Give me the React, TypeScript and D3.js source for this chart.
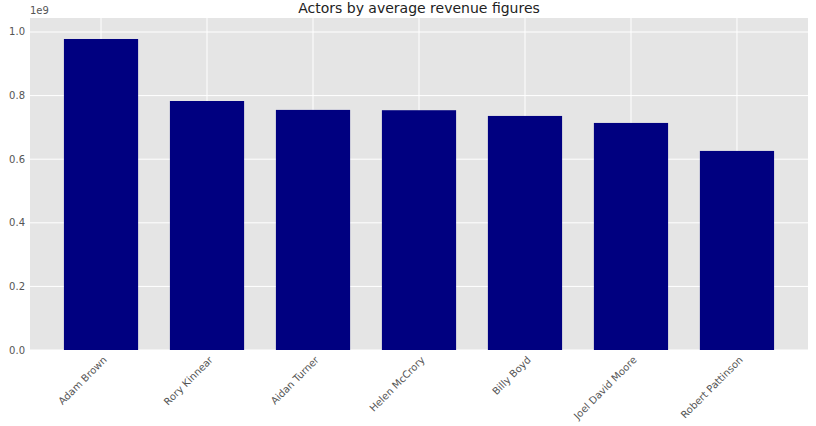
import React from "react";
import * as d3 from "d3";

const actors = ["Adam Brown", "Rory Kinnear", "Aidan Turner", "Helen McCrory", "Billy Boyd", "Joel David Moore", "Robert Pattinson"];
const revenue = [0.978e9, 0.783e9, 0.755e9, 0.754e9, 0.736e9, 0.714e9, 0.626e9];
const yTicks = [0, 0.2, 0.4, 0.6, 0.8, 1.0];

export default function App() {
  const W = 816, H = 426;
  const left = 30, right = 808, top = 18, bottom = 350;
  const x = d3.scaleLinear().domain([-0.67, actors.length - 1 + 0.67]).range([left, right]);
  const y = d3.scaleLinear().domain([0, 1.044e9]).range([bottom, top]);
  const bw = x(0.7) - x(0);
  const font = "'DejaVu Sans', sans-serif";
  return (
    <svg width={W} height={H} style={{ position: "absolute", left: 0, top: 0 }}>
      <rect x={0} y={0} width={W} height={H} fill="#fff" />
      <rect x={left} y={top} width={right - left} height={bottom - top} fill="#E5E5E5" />
      {yTicks.map((t) => (
        <g key={t}>
          <line x1={left} x2={right} y1={y(t * 1e9)} y2={y(t * 1e9)} stroke="#fff" strokeWidth={1} />
          <text x={left - 5} y={y(t * 1e9)} dy="0.35em" textAnchor="end" fontSize={10} fill="#555" fontFamily={font}>
            {t.toFixed(1)}
          </text>
        </g>
      ))}
      {actors.map((a, i) => (
        <line key={a} x1={x(i)} x2={x(i)} y1={top} y2={bottom} stroke="#fff" strokeWidth={1} />
      ))}
      {actors.map((a, i) => (
        <rect key={a} x={x(i) - bw / 2} y={y(revenue[i])} width={bw} height={bottom - y(revenue[i])} fill="#000080" />
      ))}
      {actors.map((a, i) => (
        <text key={a} transform={`translate(${x(i) + 4},${bottom + 8}) rotate(-45)`} textAnchor="end" dy="0.35em"
          fontSize={10} fill="#555" fontFamily={font}>
          {a}
        </text>
      ))}
      <text x={left} y={top - 4} fontSize={10} fill="#555" fontFamily={font}>1e9</text>
      <text x={(left + right) / 2} y={top - 5} textAnchor="middle" fontSize={14} fill="#222" fontFamily={font}>
        Actors by average revenue figures
      </text>
    </svg>
  );
}
